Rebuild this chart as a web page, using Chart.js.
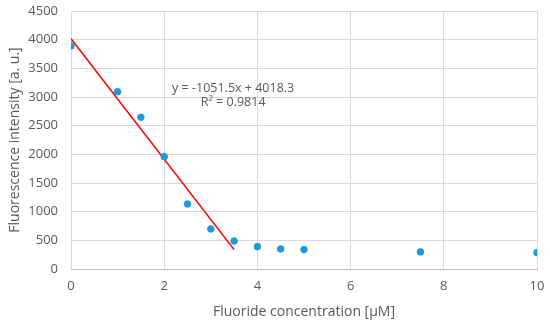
<!DOCTYPE html>
<html>
<head>
<meta charset="utf-8">
<script src="https://cdn.jsdelivr.net/npm/chart.js@4/dist/chart.umd.min.js"></script>
<style>
  html, body { margin: 0; padding: 0; background: #fff; }
  #wrap { width: 550px; height: 326px; }
</style>
</head>
<body>
<div id="wrap"><canvas id="c"></canvas></div>
<script>
// fluoride concentration [µM] vs fluorescence intensity
const concentration = [0, 1, 1.5, 2, 2.5, 3, 3.5, 4, 4.5, 5, 7.5, 10];
const intensity = [3890, 3092, 2646, 1960, 1134, 698, 488, 390, 350, 338, 298, 285];

// linear fit over the first points
const trendX = [0, 3.5];
const trendY = [4018.3, 338.05];
const equationText = ["y = -1051.5x + 4018.3", "R² = 0.9814"];

const grey = "#595959";
const font = "'Open Sans', 'Liberation Sans', sans-serif";

const equationLabel = {
  id: "equationLabel",
  afterDatasetsDraw(chart) {
    const { ctx, scales } = chart;
    const px = scales.x.getPixelForValue(3.48);
    const py = scales.y.getPixelForValue(3157);
    ctx.save();
    ctx.fillStyle = grey;
    ctx.font = "12.5px " + font;
    ctx.textAlign = "center";
    ctx.textBaseline = "middle";
    ctx.fillText(equationText[0], px, py);
    ctx.fillText(equationText[1], px, py + 14);
    ctx.restore();
  }
};

new Chart(document.getElementById("c"), {
  type: "scatter",
  data: {
    datasets: [
      {
        label: "Data",
        data: concentration.map((x, i) => ({ x, y: intensity[i] })),
        backgroundColor: "#1f9ad9",
        borderColor: "#1f9ad9",
        pointRadius: 3.3,
        order: 1
      },
      {
        label: "Linear fit",
        data: trendX.map((x, i) => ({ x, y: trendY[i] })),
        showLine: true,
        borderColor: "#ff0000",
        borderWidth: 1.6,
        pointRadius: 0,
        order: 2
      }
    ]
  },
  options: {
    responsive: true,
    maintainAspectRatio: false,
    animation: false,
    layout: { padding: { left: 3, right: 13, top: 11, bottom: 2 } },
    plugins: {
      legend: { display: false },
      tooltip: { enabled: false }
    },
    scales: {
      x: {
        type: "linear",
        min: 0, max: 10,
        ticks: { stepSize: 2, color: grey, font: { family: font, size: 13 }, padding: 9 },
        grid: { color: "#d9d9d9", drawTicks: false },
        border: { color: "#bfbfbf" },
        title: { display: true, text: "Fluoride concentration [µM]", color: grey, font: { family: font, size: 14 }, padding: { top: 4 } },
        afterFit(axis) {
          axis.height = 55;
          axis.paddingLeft = 0;
          axis.paddingRight = 0;
        }
      },
      y: {
        min: 0, max: 4500,
        ticks: { stepSize: 500, color: grey, font: { family: font, size: 13 }, padding: 13, callback: v => String(v) },
        grid: { color: "#d9d9d9", drawTicks: false },
        border: { display: false },
        title: { display: true, text: "Fluorescence intensity [a. u.]", color: grey, font: { family: font, size: 14 }, padding: { bottom: 0 } },
        afterFit(axis) {
          axis.width = 68;
          axis.paddingTop = 0;
          axis.paddingBottom = 0;
        }
      }
    }
  },
  plugins: [equationLabel]
});
</script>
</body>
</html>
